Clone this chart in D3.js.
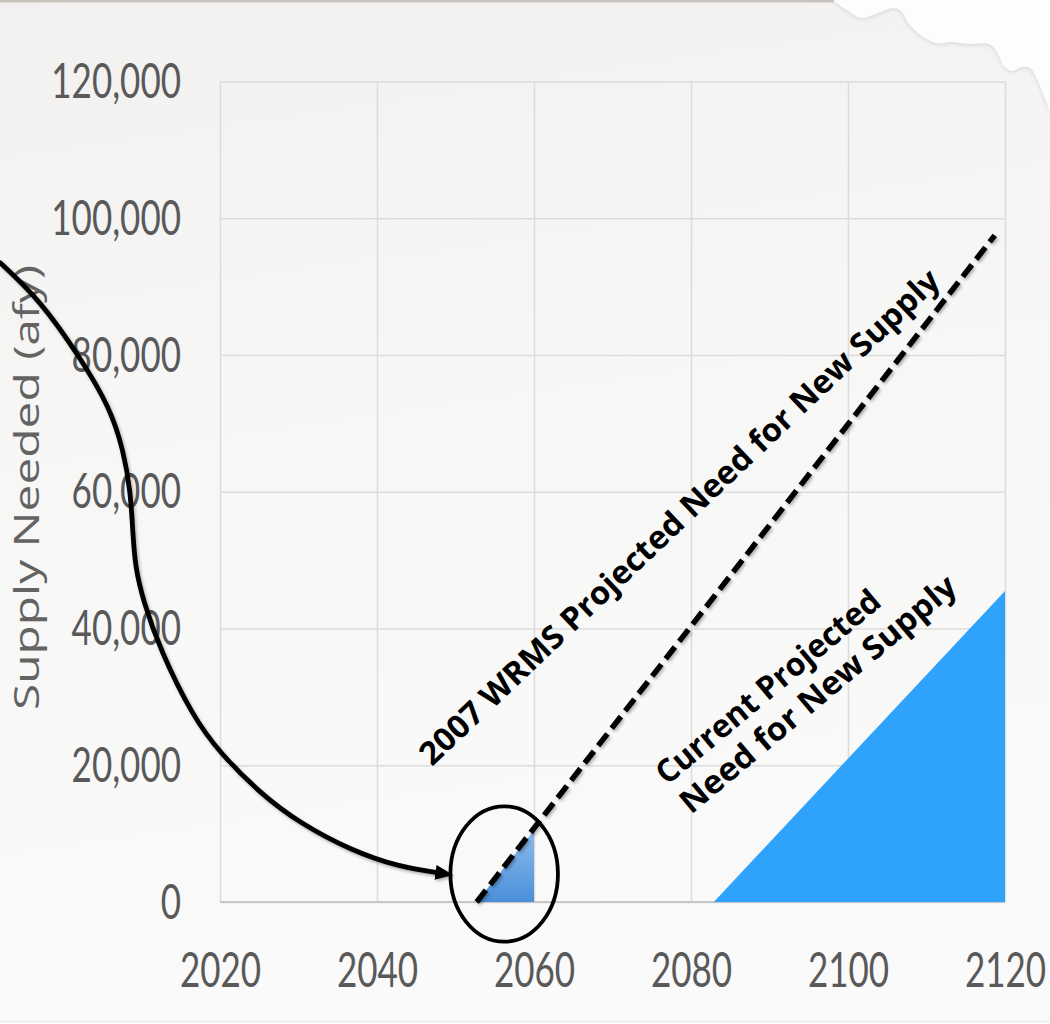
<!DOCTYPE html>
<html>
<head>
<meta charset="utf-8">
<script src="https://cdn.jsdelivr.net/npm/d3@7"></script>
<style>
  html, body { margin: 0; padding: 0; background: #f6f5f3; }
  svg { display: block; }
</style>
</head>
<body>
<script>
// ---- data ----
const xTicks = [2020, 2040, 2060, 2080, 2100, 2120];
const yTicks = [0, 20000, 40000, 60000, 80000, 100000, 120000];

// 2007 WRMS projection (dashed line)
const wrmsYears = [2052.7, 2118.7];
const wrmsValues = [0, 97500];

// Portion of the 2007 projection highlighted near 2060
const nearYears = [2052.7, 2060];
const nearValues = [0, 10500];

// Current projected need for new supply
const currentYears = [2082.9, 2120];
const currentValues = [0, 45500];

// Callout: ellipse around the 2060 region and a curved arrow pointing to it
const ringCenter = [2056.2, 4100];
const ringRadius = [6.85, 9900];
const arrowYears  = [1992.0, 1997.1, 2002.2, 2006.0, 2007.7, 2008.6, 2008.9, 2009.2, 2010.2, 2012.4, 2016.6, 2020.0, 2025.1, 2030.2, 2036.6, 2042.9, 2047.7];
const arrowValues = [93500, 88000, 79600, 72300, 66000, 60100, 53900, 49000, 44100, 36800, 27000, 21800, 15900, 11500, 7600, 5100, 4300];

const yTitle = "Supply Needed (afy)";
const wrmsLabel = "2007 WRMS Projected Need for New Supply";
const currentLabel = ["Current Projected", "Need for New Supply"];

// ---- layout ----
const W = 1050, H = 1024;
const STRETCH = 1.39;           // vertical stretch of the axis text
const x = d3.scaleLinear().domain([2020, 2120]).range([220, 1005]);
const y = d3.scaleLinear().domain([0, 120000]).range([902, 81.5]);

const svg = d3.select("body").append("svg").attr("width", W).attr("height", H);
const defs = svg.append("defs");

const bg = defs.append("linearGradient").attr("id", "bg")
  .attr("x1", 0).attr("y1", 0).attr("x2", 0.15).attr("y2", 1);
bg.append("stop").attr("offset", "0%").attr("stop-color", "#f2f1ef");
bg.append("stop").attr("offset", "45%").attr("stop-color", "#f7f7f6");
bg.append("stop").attr("offset", "100%").attr("stop-color", "#fafafa");

const nearGrad = defs.append("linearGradient").attr("id", "nearGrad")
  .attr("x1", 0).attr("y1", 0).attr("x2", 0).attr("y2", 1);
nearGrad.append("stop").attr("offset", "0%").attr("stop-color", "#8dbdee");
nearGrad.append("stop").attr("offset", "100%").attr("stop-color", "#4a8fd8");

const shadow = defs.append("filter").attr("id", "shadow")
  .attr("x", "-10%").attr("y", "-10%").attr("width", "130%").attr("height", "130%");
shadow.append("feDropShadow").attr("dx", 1.5).attr("dy", 2).attr("stdDeviation", 1.5)
  .attr("flood-color", "#000").attr("flood-opacity", 0.3);

const paperShadow = defs.append("filter").attr("id", "paperShadow")
  .attr("x", "-10%").attr("y", "-10%").attr("width", "130%").attr("height", "130%");
paperShadow.append("feDropShadow").attr("dx", 0).attr("dy", 1).attr("stdDeviation", 2)
  .attr("flood-color", "#999").attr("flood-opacity", 0.35);

defs.append("marker").attr("id", "head")
  .attr("markerUnits", "userSpaceOnUse")
  .attr("viewBox", "0 -9 20 18")
  .attr("markerWidth", 20).attr("markerHeight", 18)
  .attr("refX", 2).attr("refY", 0)
  .attr("orient", "auto")
  .append("path").attr("d", "M0,-7.5L18,0L0,7.5Z").attr("fill", "#000");

// background
svg.append("rect").attr("width", W).attr("height", H).attr("fill", "url(#bg)");

// torn paper corner at the top right
const edge = [[833, 0], [848, 11], [862, 18], [878, 13], [893, 8], [901, 11], [909, 24], [922, 36], [936, 43], [951, 42], [968, 44], [989, 44], [997, 52], [1004, 66], [1012, 71], [1022, 67], [1030, 68], [1037, 79], [1044, 96], [1050, 112]];
const edgePath = d3.line().curve(d3.curveCatmullRom)(edge) + "L1050,0Z";
svg.append("path").attr("d", edgePath).attr("fill", "#fdfdfd").attr("filter", "url(#paperShadow)");
svg.append("rect").attr("x", 0).attr("y", 0).attr("width", 834).attr("height", 2.5).attr("fill", "#c7c4bd");
svg.append("rect").attr("x", 0).attr("y", 1021).attr("width", W).attr("height", 1).attr("fill", "#e8e8e8");

// grid + axes
const plotW = x.range()[1] - x.range()[0];
const plotH = y.range()[0] - y.range()[1];
const tickFont = "Lato, 'Open Sans', sans-serif";

const gx = svg.append("g").attr("transform", `translate(0,${y(0)})`)
  .call(d3.axisBottom(x).tickValues(xTicks).tickFormat(d3.format("d")).tickSize(-plotH));
const gy = svg.append("g").attr("transform", `translate(${x(2020)},0)`)
  .call(d3.axisLeft(y).tickValues(yTicks).tickFormat(d3.format(",")).tickSize(-plotW));

[gx, gy].forEach(g => {
  g.select(".domain").remove();
  g.selectAll(".tick line").attr("stroke", "#dcdcdc").attr("stroke-width", 1.5);
  g.selectAll(".tick text")
    .attr("fill", "#595959")
    .attr("x", 0).attr("y", 0).attr("dy", 0)
    .style("font-family", tickFont)
    .style("font-size", "35px");
});
gx.selectAll(".tick text").attr("transform", `translate(0,85) scale(1,${STRETCH})`);
gy.selectAll(".tick text").attr("transform", `translate(-39,16) scale(1,${STRETCH})`);

// x baseline
svg.append("line")
  .attr("x1", x(2020)).attr("x2", x(2120)).attr("y1", y(0)).attr("y2", y(0))
  .attr("stroke", "#c6c6c6").attr("stroke-width", 2);

// y axis title
svg.append("text")
  .attr("transform", `translate(39,${(265 + 710) / 2}) scale(1,${STRETCH}) rotate(-90)`)
  .attr("text-anchor", "middle")
  .attr("fill", "#636363")
  .style("font-family", "'Open Sans', sans-serif")
  .style("font-size", "35px")
  .attr("textLength", 445 / STRETCH).attr("lengthAdjust", "spacingAndGlyphs")
  .text(yTitle);

// areas
const area = d3.area().x(d => x(d[0])).y0(y(0)).y1(d => y(d[1]));
svg.append("path")
  .attr("d", area(d3.zip(currentYears, currentValues)))
  .attr("fill", "#2fa3fc");
svg.append("path")
  .attr("d", area(d3.zip(nearYears, nearValues)))
  .attr("fill", "url(#nearGrad)");

// dashed 2007 projection
svg.append("path")
  .attr("d", d3.line().x(d => x(d[0])).y(d => y(d[1]))(d3.zip(wrmsYears, wrmsValues)))
  .attr("fill", "none").attr("stroke", "#000").attr("stroke-width", 5.5)
  .attr("stroke-dasharray", "15,7")
  .attr("filter", "url(#shadow)");

// callout ring
svg.append("ellipse")
  .attr("cx", x(ringCenter[0])).attr("cy", y(ringCenter[1]))
  .attr("rx", x(ringCenter[0] + ringRadius[0]) - x(ringCenter[0]))
  .attr("ry", y(0) - y(ringRadius[1]))
  .attr("fill", "none").attr("stroke", "#000").attr("stroke-width", 3.8);

// callout arrow
svg.append("path")
  .attr("d", d3.line().curve(d3.curveBasis).x(d => x(d[0])).y(d => y(d[1]))(d3.zip(arrowYears, arrowValues)))
  .attr("fill", "none").attr("stroke", "#000").attr("stroke-width", 4.8)
  .attr("stroke-linecap", "round")
  .attr("marker-end", "url(#head)")
  .attr("filter", "url(#shadow)");

// series labels
const labelFont = "'Open Sans', Lato, sans-serif";
function slantedLabel(px, py, angle, len, text) {
  svg.append("text")
    .attr("transform", `translate(${px},${py}) rotate(${-angle})`)
    .attr("fill", "#000")
    .style("font-family", labelFont).style("font-weight", 700).style("font-size", "32px")
    .attr("textLength", len).attr("lengthAdjust", "spacingAndGlyphs")
    .text(text);
}
slantedLabel(432, 767, 43.5, 703, wrmsLabel);
slantedLabel(667, 786, 40, 282, currentLabel[0]);
slantedLabel(691, 815, 40, 350, currentLabel[1]);
</script>
</body>
</html>
